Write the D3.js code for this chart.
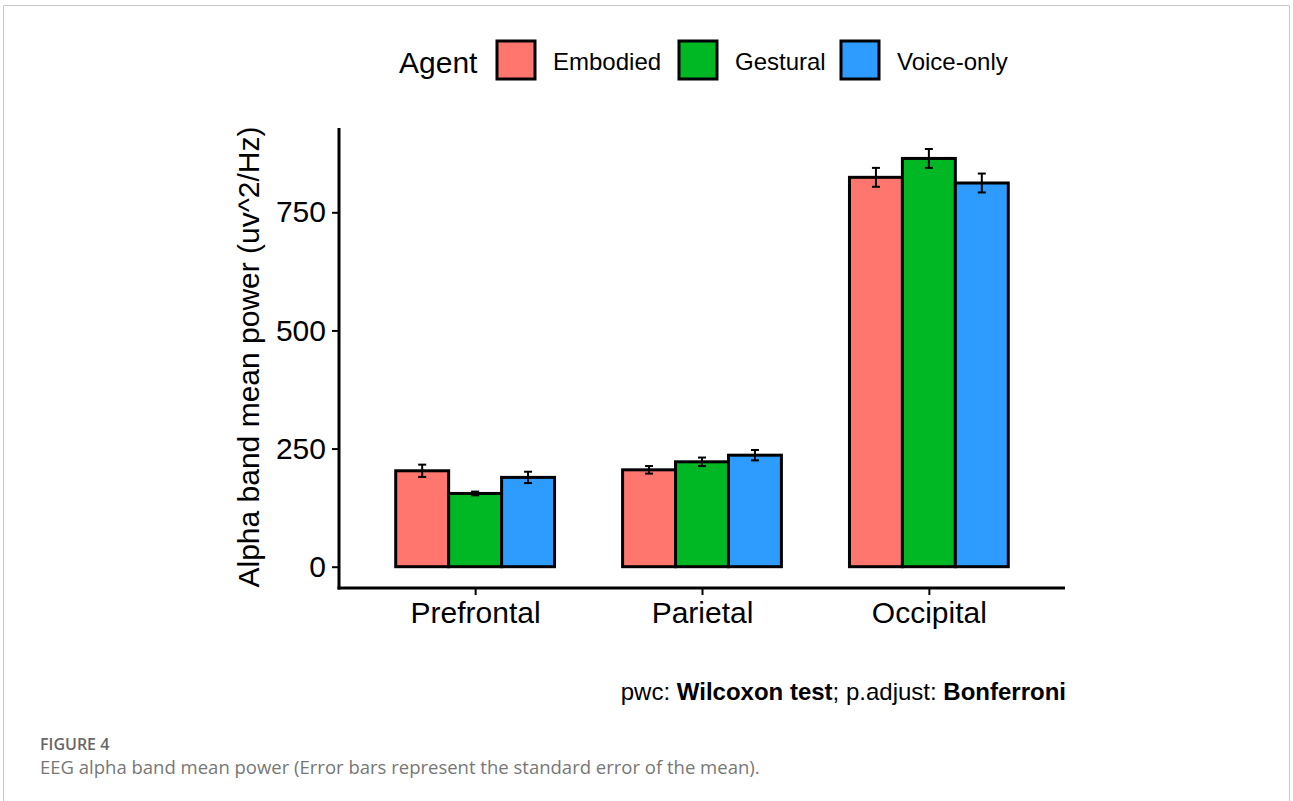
<!DOCTYPE html>
<html>
<head>
<meta charset="utf-8">
<script src="https://cdn.jsdelivr.net/npm/d3@7/dist/d3.min.js"></script>
<style>
  html, body { margin: 0; padding: 0; background: #fff; }
  svg { display: block; }
</style>
</head>
<body>
<svg id="fig" width="1293" height="801"></svg>
<script>
// Brain regions on the x axis and the three agent conditions
const regions = ["Prefrontal", "Parietal", "Occipital"];
const agents = ["Embodied", "Gestural", "Voice-only"];
const agentColors = ["#FF766E", "#00B823", "#2E9BFF"];

// Mean alpha band power per agent, in region order
const embodiedMean  = [203, 205, 824];
const gesturalMean  = [155, 222, 864];
const voiceMean     = [189, 236, 812];
// Standard error of the mean
const embodiedSE = [13, 8, 20];
const gesturalSE = [4, 9, 20];
const voiceSE    = [12, 11, 20];

const yTicks = [0, 250, 500, 750];

const means = [embodiedMean, gesturalMean, voiceMean];
const ses = [embodiedSE, gesturalSE, voiceSE];
const rows = [];
regions.forEach((r, i) => agents.forEach((a, j) => {
  rows.push({ region: r, agent: a, mean: means[j][i], se: ses[j][i], color: agentColors[j] });
}));

const svg = d3.select("#fig");
const font = "'Liberation Sans', Arial, sans-serif";

// Figure frame
svg.append("path")
  .attr("d", "M3.5,801 L3.5,5.5 L1289.5,5.5 L1289.5,801")
  .attr("fill", "none").attr("stroke", "#c8c8c8").attr("stroke-width", 1);

const panel = { left: 339, right: 1065, top: 128, bottom: 588 };

const x = d3.scalePoint().domain(regions)
  .range([panel.left, panel.right]).padding(0.6);
const step = x.step();
const groupW = step * 0.7;
const xs = d3.scaleBand().domain(agents).range([-groupW / 2, groupW / 2]).padding(0);

const y = d3.scaleLinear().domain([0, 750]).range([566.7, 212.3]);

// Bars
svg.append("g").selectAll("rect").data(rows).join("rect")
  .attr("x", d => x(d.region) + xs(d.agent))
  .attr("width", xs.bandwidth())
  .attr("y", d => y(d.mean))
  .attr("height", d => y(0) - y(d.mean))
  .attr("fill", d => d.color)
  .attr("stroke", "#000").attr("stroke-width", 3)
  .attr("stroke-linejoin", "miter");

// Error bars
const eb = svg.append("g").attr("stroke", "#000").attr("stroke-width", 2);
rows.forEach(d => {
  const cx = x(d.region) + xs(d.agent) + xs.bandwidth() / 2;
  const hw = 4;
  eb.append("line").attr("x1", cx).attr("x2", cx)
    .attr("y1", y(d.mean + d.se)).attr("y2", y(d.mean - d.se));
  eb.append("line").attr("x1", cx - hw).attr("x2", cx + hw)
    .attr("y1", y(d.mean + d.se)).attr("y2", y(d.mean + d.se));
  eb.append("line").attr("x1", cx - hw).attr("x2", cx + hw)
    .attr("y1", y(d.mean - d.se)).attr("y2", y(d.mean - d.se));
});

// Y axis
const yAxis = svg.append("g").attr("transform", `translate(${panel.left},0)`)
  .call(d3.axisLeft(y).tickValues(yTicks).tickSize(7).tickPadding(6));
yAxis.select(".domain").remove();
yAxis.selectAll(".tick line").attr("stroke", "#000").attr("stroke-width", 2);
yAxis.selectAll(".tick text").attr("font-family", font).attr("font-size", 30).attr("fill", "#000");
svg.append("line").attr("x1", panel.left).attr("x2", panel.left)
  .attr("y1", panel.top).attr("y2", panel.bottom + 1.5)
  .attr("stroke", "#000").attr("stroke-width", 3);

// X axis
const xAxis = svg.append("g").attr("transform", `translate(0,${panel.bottom})`)
  .call(d3.axisBottom(x).tickSize(7).tickPadding(7));
xAxis.select(".domain").remove();
xAxis.selectAll(".tick line").attr("stroke", "#000").attr("stroke-width", 2);
xAxis.selectAll(".tick text").attr("font-family", font).attr("font-size", 30).attr("fill", "#000");
svg.append("line").attr("x1", panel.left - 1.5).attr("x2", panel.right)
  .attr("y1", panel.bottom).attr("y2", panel.bottom)
  .attr("stroke", "#000").attr("stroke-width", 3);

// Y axis title
svg.append("text")
  .attr("transform", `translate(259,357) rotate(-90)`)
  .attr("text-anchor", "middle")
  .attr("font-family", font).attr("font-size", 30).attr("fill", "#000")
  .text("Alpha band mean power (uv^2/Hz)");

// Legend
const legend = svg.append("g");
legend.append("text").attr("x", 399).attr("y", 73)
  .attr("font-family", font).attr("font-size", 30).attr("fill", "#000").text("Agent");
const keyX = [497, 679, 841];
agents.forEach((a, j) => {
  legend.append("rect").attr("x", keyX[j]).attr("y", 41).attr("width", 38).attr("height", 38)
    .attr("fill", agentColors[j]).attr("stroke", "#000").attr("stroke-width", 3);
  legend.append("text").attr("x", keyX[j] + 56).attr("y", 70)
    .attr("font-family", font).attr("font-size", 24).attr("fill", "#000").text(a);
});

// Test annotation
const note = svg.append("text").attr("x", 1066).attr("y", 700).attr("text-anchor", "end")
  .attr("font-family", font).attr("font-size", 24).attr("fill", "#000");
note.append("tspan").text("pwc: ");
note.append("tspan").attr("font-weight", "bold").text("Wilcoxon test");
note.append("tspan").text("; p.adjust: ");
note.append("tspan").attr("font-weight", "bold").text("Bonferroni");

// Caption
svg.append("text").attr("x", 40).attr("y", 750)
  .attr("font-family", "'Open Sans', 'Noto Sans', sans-serif").attr("font-size", 16)
  .attr("font-weight", 600).attr("fill", "#666").text("FIGURE 4");
svg.append("text").attr("x", 40).attr("y", 774)
  .attr("font-family", "'Open Sans', 'Noto Sans', sans-serif").attr("font-size", 18.5)
  .attr("fill", "#777")
  .text("EEG alpha band mean power (Error bars represent the standard error of the mean).");
</script>
</body>
</html>
